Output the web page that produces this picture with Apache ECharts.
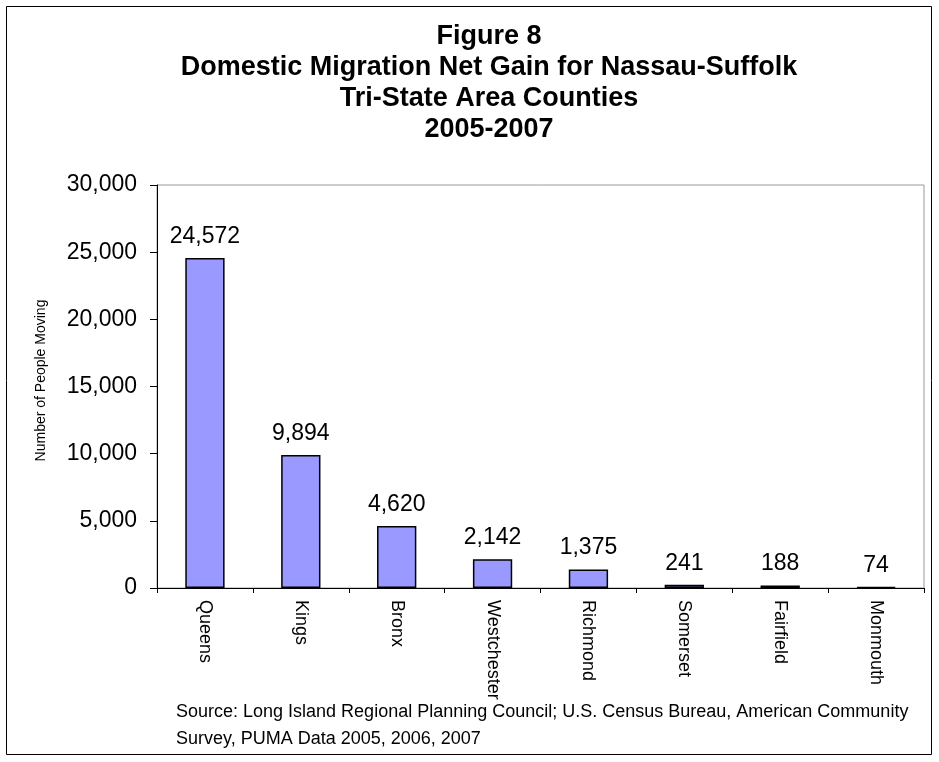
<!DOCTYPE html>
<html>
<head>
<meta charset="utf-8">
<script src="https://cdn.jsdelivr.net/npm/echarts@6/dist/echarts.min.js"></script>
<style>
  html, body { margin: 0; padding: 0; background: #fff; }
  #chart { width: 939px; height: 762px; }
</style>
</head>
<body>
<div id="chart"></div>
<script>
// Domestic migration net gain, Nassau-Suffolk, by tri-state county
const counties = ['Queens', 'Kings', 'Bronx', 'Westchester', 'Richmond', 'Somerset', 'Fairfield', 'Monmouth'];
const peopleMoving = [24572, 9894, 4620, 2142, 1375, 241, 188, 74];
const titleLines = ['Figure 8', 'Domestic Migration Net Gain for Nassau-Suffolk', 'Tri-State Area Counties', '2005-2007'];
const yAxisName = 'Number of People Moving';
const sourceLines = ['Source: Long Island Regional Planning Council; U.S. Census Bureau, American Community', 'Survey, PUMA Data 2005, 2006, 2007'];

const FONT = '"Liberation Sans", Arial, sans-serif';
const fmt = v => v.toLocaleString('en-US');

const chart = echarts.init(document.getElementById('chart'), null, { renderer: 'canvas' });
chart.setOption({
  backgroundColor: '#fff',
  animation: false,
  grid: {
    left: 157, right: 15, top: 185, bottom: 174,
    show: true, borderColor: '#999', borderWidth: 1, backgroundColor: 'transparent'
  },
  xAxis: {
    type: 'category',
    data: counties,
    axisLine: { lineStyle: { color: '#000', width: 1 } },
    axisTick: { show: true, length: 5, alignWithLabel: false, lineStyle: { color: '#000' } },
    axisLabel: { rotate: -90, margin: 12, fontFamily: FONT, fontSize: 18, color: '#000', interval: 0 }
  },
  yAxis: {
    type: 'value',
    min: 0, max: 30000, interval: 5000,
    name: yAxisName,
    nameLocation: 'middle',
    nameGap: 109,
    nameTextStyle: { fontFamily: FONT, fontSize: 14, color: '#000', padding: [0, 0, 0, 12] },
    axisLine: { show: true, lineStyle: { color: '#000', width: 1 } },
    axisTick: { show: true, length: 7, lineStyle: { color: '#000' } },
    splitLine: { show: false },
    axisLabel: { margin: 20, fontFamily: FONT, fontSize: 23, color: '#000', formatter: fmt }
  },
  series: [{
    type: 'bar',
    data: peopleMoving,
    barWidth: '41%',
    itemStyle: { color: '#9999FF', borderColor: '#000', borderWidth: 1.5 },
    label: {
      show: true, position: 'top', distance: 10,
      fontFamily: FONT, fontSize: 23, color: '#000',
      formatter: p => fmt(p.value)
    }
  }],
  graphic: [
    { type: 'rect', shape: { x: 6.5, y: 6.5, width: 925, height: 748 }, style: { fill: 'none', stroke: '#000', lineWidth: 1 }, silent: true, z: -1 },
    { type: 'text', x: 489, y: 21, style: { text: titleLines.join('\n'), align: 'center', verticalAlign: 'top', font: 'bold 27px ' + FONT, fill: '#000', lineHeight: 31 } },
    { type: 'text', left: 176, top: 699, style: { text: sourceLines.join('\n'), font: '18px ' + FONT, fill: '#000', lineHeight: 27 } }
  ]
});
</script>
</body>
</html>
